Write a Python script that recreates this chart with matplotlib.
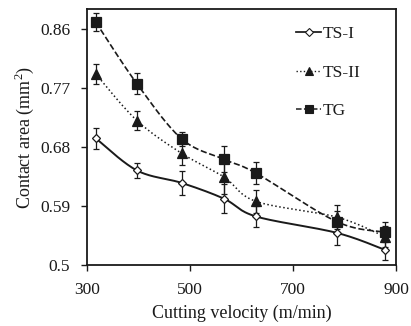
import numpy as np
import matplotlib
matplotlib.use("Agg")
import matplotlib.pyplot as plt
from matplotlib.lines import Line2D

plt.rcParams['font.family'] = ['Liberation Serif', 'DejaVu Serif']
plt.rcParams['mathtext.fontset'] = 'custom'
plt.rcParams['mathtext.rm'] = 'Liberation Serif'

velocity = [317, 397, 484, 566, 628, 785, 879]
ts1 = [0.693, 0.644, 0.625, 0.601, 0.574, 0.549, 0.523]
ts2 = [0.791, 0.720, 0.670, 0.634, 0.597, 0.573, 0.543]
tg = [0.870, 0.776, 0.692, 0.661, 0.640, 0.566, 0.550]
ts1_err = [0.016, 0.012, 0.018, 0.022, 0.016, 0.018, 0.016]
ts2_err = [0.015, 0.015, 0.018, 0.026, 0.018, 0.018, 0.016]
tg_err = [0.014, 0.016, 0.010, 0.020, 0.017, 0.016, 0.015]
x_ticks = [300, 500, 700, 900]
y_ticks = [0.5, 0.59, 0.68, 0.77, 0.86]

INK = '#1a1a1a'


def smooth(x, y, n=30, xr=600.0, yr=0.39):
    """Catmull-Rom curve through the points (scaled to axis ranges)."""
    p = np.column_stack([np.asarray(x, float) / xr, np.asarray(y, float) / yr])
    p = np.vstack([p[0], p, p[-1]])
    out = []
    for i in range(1, len(p) - 2):
        p0, p1, p2, p3 = p[i - 1], p[i], p[i + 1], p[i + 2]
        t = np.linspace(0, 1, n)[:, None]
        seg = 0.5 * ((2 * p1) + (-p0 + p2) * t + (2 * p0 - 5 * p1 + 4 * p2 - p3) * t ** 2
                     + (-p0 + 3 * p1 - 3 * p2 + p3) * t ** 3)
        out.append(seg if i == 1 else seg[1:])
    out = np.vstack(out)
    return out[:, 0] * xr, out[:, 1] * yr


fig = plt.figure(figsize=(4.11, 3.26), dpi=100)
ax = fig.add_axes([0.2117, 0.1871, 0.7518, 0.7853])

series = [
    (ts1, ts1_err, '-', 1.4, 'D', 'white', 4.5, 'TS-I'),
    (ts2, ts2_err, ':', 1.1, '^', INK, 6.5, 'TS-II'),
    (tg, tg_err, '--', 1.2, 's', INK, 6.5, 'TG'),
]
handles = []
for y, err, ls, lw, mk, mfc, ms, lab in series:
    sx, sy = smooth(velocity, y)
    ax.plot(sx, sy, ls, color=INK, lw=lw, zorder=2)
    ax.errorbar(velocity, y, yerr=err, fmt='none', ecolor=INK, elinewidth=0.9,
                capsize=2.5, capthick=0.9, zorder=3)
    ax.plot(velocity, y, ls='none', marker=mk, ms=ms, mfc=mfc, mec=INK, mew=0.9, zorder=4)
    handles.append(Line2D([], [], ls=ls, color=INK, lw=lw * 0.9, marker=mk, ms=ms * 0.8,
                          mfc=mfc, mec=INK, mew=0.8, label=lab))

ax.set_xlim(300, 900)
ax.set_ylim(0.5, 0.89)
ax.set_xticks(x_ticks)
ax.set_yticks(y_ticks)
ax.set_yticklabels(['0.5', '0.59', '0.68', '0.77', '0.86'])
ax.tick_params(direction='out', length=4, width=1, colors=INK, labelsize=12.5)
ax.tick_params(axis='x', pad=8)
ax.tick_params(axis='y', pad=8)
for s in ax.spines.values():
    s.set_linewidth(1.3)
    s.set_color(INK)

ax.set_xlabel('Cutting velocity (m/min)', fontsize=13, color=INK, labelpad=5)
ax.set_ylabel('Contact area (mm$^2$)', fontsize=13, color=INK, labelpad=3)

leg = ax.legend(handles=handles, loc='upper right', bbox_to_anchor=(0.935, 0.995),
                frameon=False, fontsize=12.5, handlelength=1.4, handletextpad=0.1,
                labelspacing=1.3, labelcolor=INK)

fig.savefig('out.png', dpi=100)
